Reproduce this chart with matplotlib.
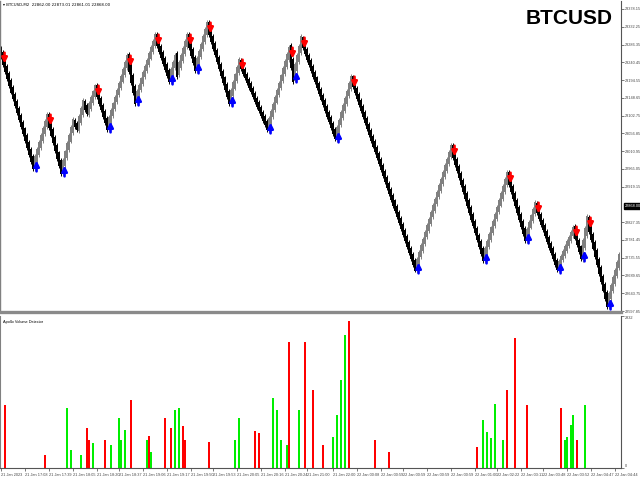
import matplotlib
matplotlib.use('Agg')
import matplotlib.pyplot as plt
import numpy as np

# ---------------- data ----------------
symbol = "BTCUSD"
header = "\u25BE BTCUSD,M2  22862.00 22873.01 22861.01 22868.00"
indicator_name = "Apollo Volume Detector"
current_price = 22868.00

# zigzag pivots of the renko-like price path (bar index, price, signal)
pivot_bar = [0, 16, 23, 30, 36, 38, 41, 43, 47, 53, 63, 67, 77, 84, 87, 88, 93, 97,
             103, 114, 119, 133, 144, 146, 150, 167, 175, 207, 225, 241, 253, 262,
             267, 278, 286, 290, 293, 303, 309]
pivot_price = [23259.3, 22972.5, 23099.1, 22959.6, 23086.2, 23070.7, 23135.3, 23112.0,
               23174.0, 23073.3, 23251.5, 23143.0, 23305.8, 23197.3, 23251.5, 23215.4,
               23305.8, 23225.7, 23336.8, 23140.4, 23241.2, 23070.7, 23272.2, 23202.5,
               23298.1, 23047.4, 23197.3, 22709.0, 23019.0, 22734.8, 22949.2, 22786.5,
               22871.7, 22709.0, 22809.7, 22740.0, 22833.0, 22615.9, 22737.4]
pivot_signal = ['d', 'u', 'd', 'u', '', '', '', '', 'd', 'u', 'd', 'u', 'd', 'u', '', '',
                'd', 'u', 'd', 'u', 'd', 'u', 'd', 'u', 'd', 'u', 'd', 'u', 'd', 'u',
                'd', 'u', 'd', 'u', 'd', 'u', 'd', 'u', '']

price_ticks = [22597.85, 22643.75, 22689.65, 22735.55, 22781.45, 22827.35, 22919.15,
               22965.05, 23010.95, 23056.85, 23102.75, 23148.65, 23194.55, 23240.45,
               23286.35, 23332.25, 23378.15]

time_tick_bar = [0, 12, 24, 36, 48, 59, 71, 83, 95, 106, 118, 130, 142, 153, 166, 178,
                 190, 201, 213, 225, 237, 248, 260, 271, 283, 295, 307]
time_tick_label = ["21 Jan 2023", "21 Jan 17:08", "21 Jan 17:39", "21 Jan 18:05",
                   "21 Jan 18:20", "21 Jan 18:37", "21 Jan 19:06", "21 Jan 19:17",
                   "21 Jan 19:50", "21 Jan 19:53", "21 Jan 20:05", "21 Jan 20:16",
                   "21 Jan 20:24", "21 Jan 21:00", "21 Jan 22:00", "22 Jan 00:08",
                   "22 Jan 00:59", "22 Jan 00:59", "22 Jan 00:59", "22 Jan 00:59",
                   "22 Jan 01:00", "22 Jan 02:22", "22 Jan 03:11", "22 Jan 03:48",
                   "22 Jan 03:52", "22 Jan 04:47", "22 Jan 04:44"]

vol_bar = [2, 22, 33, 35, 40, 43, 44, 46, 52, 55, 59, 60, 62, 65, 73, 74, 75, 82, 85, 87,
           89, 91, 92, 104, 117, 119, 127, 129, 136, 138, 140, 143, 144, 149, 152, 156,
           161, 166, 168, 170, 172, 174, 187, 194, 238, 241, 243, 245, 247, 251, 253,
           257, 263, 280, 282, 283, 285, 286, 288, 292]
vol_value = [1174, 242, 1118, 335, 242, 745, 522, 466, 522, 428, 932, 522, 708, 1267, 522,
             596, 298, 932, 745, 1081, 1118, 782, 522, 484, 522, 932, 689, 652, 1304, 1081,
             522, 428, 2347, 1081, 2347, 1453, 428, 578, 987, 1639, 2478, 2739, 522, 298,
             391, 894, 671, 559, 1192, 522, 1453, 2422, 1174, 1118, 522, 578, 801, 987,
             522, 1174]
vol_side = ['r', 'r', 'g', 'g', 'g', 'r', 'r', 'g', 'r', 'g', 'g', 'g', 'g', 'r', 'g',
            'r', 'g', 'r', 'r', 'g', 'g', 'r', 'r', 'r', 'g', 'g', 'r', 'r', 'g', 'g',
            'g', 'g', 'r', 'g', 'r', 'r', 'r', 'g', 'g', 'g', 'g', 'r', 'r', 'r', 'r',
            'g', 'g', 'g', 'g', 'g', 'r', 'r', 'r', 'r', 'g', 'g', 'g', 'g', 'r', 'g']
vol_max = 2832

# ---------------- figure ----------------
W, H = 640, 480
fig = plt.figure(figsize=(6.4, 4.8), dpi=100)
fig.patch.set_facecolor('white')

def fx(px):
    return px / W

def fy(py):
    return 1 - py / H

ax = fig.add_axes([0, fy(312), fx(621), (312 - 1) / H])
ax2 = fig.add_axes([0, fy(468), fx(621), (468 - 316) / H], sharex=ax)

# bars built from the pivot path
n_bars = pivot_bar[-1] + 1
idx = np.arange(n_bars)
close = np.interp(idx, pivot_bar, pivot_price)
opn = np.concatenate([[close[0] + 12.0], close[:-1]])
up = close >= opn
colors = np.where(up, '#808080', '#000000')
lo = np.minimum(close, opn)
hi = np.maximum(close, opn)
ext = 0.3 * (hi - lo) + 2
ax.bar(idx, (hi - lo) + 2 * ext, bottom=lo - ext, width=0.85,
       color=colors, linewidth=0)
ax.vlines(idx, lo - ext - 5, hi + ext + 5, colors=colors, linewidth=0.7)

# signal arrows
for b, p, s in zip(pivot_bar, pivot_price, pivot_signal):
    if s == 'd':
        ax.annotate('', xy=(b + 1.8, p - 22), xytext=(b + 1.8, p + 6),
                    arrowprops=dict(arrowstyle='-|>', color='#ff0000', lw=1.8,
                                    mutation_scale=8, shrinkA=0, shrinkB=0))
    elif s == 'u':
        ax.annotate('', xy=(b + 1.8, p + 14), xytext=(b + 1.8, p - 14),
                    arrowprops=dict(arrowstyle='-|>', color='#0000ff', lw=1.8,
                                    mutation_scale=8, shrinkA=0, shrinkB=0))

ax.set_xlim(-0.5, 310)
ax.set_ylim(22595.3, 23398.8)
ax.yaxis.tick_right()
ax.set_yticks(price_ticks)
ax.set_yticklabels([f"{t:.2f}" for t in price_ticks], fontsize=2.8,
                   family='Liberation Sans', color='#222222')
ax.tick_params(axis='y', length=2, width=0.5, pad=1, colors='#444444')
ax.tick_params(axis='x', bottom=False, labelbottom=False)
ax.spines['top'].set_visible(False)
ax.spines['left'].set_color('#808080')
ax.spines['left'].set_linewidth(1.0)
ax.spines['right'].set_color('#555555')
ax.spines['right'].set_linewidth(0.8)
ax.spines['bottom'].set_color('#8a8a8a')
ax.spines['bottom'].set_linewidth(2.4)

# current price box
ax.annotate(f"{current_price:.2f}", xy=(1.0, current_price), xycoords=('axes fraction', 'data'),
            xytext=(3, 0), textcoords='offset points', fontsize=2.8, family='Liberation Sans',
            color='white', va='center', ha='left',
            bbox=dict(boxstyle='square,pad=0.25', fc='black', ec='black'),
            annotation_clip=False)

# volume panel
vcol = ['#ff0000' if s == 'r' else '#00ee00' for s in vol_side]
ax2.bar(vol_bar, vol_value, width=0.75, color=vcol, linewidth=0)
ax2.set_ylim(0, vol_max)
ax2.yaxis.tick_right()
ax2.set_yticks([0, vol_max])
ax2.set_yticklabels(["0", str(vol_max)], fontsize=2.8, family='Liberation Sans', color='#222222')
lbls = ax2.get_yticklabels()
lbls[0].set_va('bottom')
lbls[1].set_va('top')
ax2.tick_params(axis='y', length=2, width=0.5, pad=1, colors='#444444')
ax2.set_xticks(time_tick_bar)
ax2.set_xticklabels(time_tick_label, fontsize=2.8, family='Liberation Sans',
                    color='#222222', ha='left')
ax2.tick_params(axis='x', length=2, width=0.5, pad=1.5, colors='#444444')
ax2.spines['top'].set_visible(False)
ax2.spines['left'].set_color('#808080')
ax2.spines['right'].set_color('#555555')
ax2.spines['right'].set_linewidth(0.8)
ax2.spines['bottom'].set_color('#555555')
ax2.spines['bottom'].set_linewidth(0.8)

# texts
fig.text(fx(3), fy(5), header, fontsize=2.8, family='DejaVu Sans', va='center', ha='left')
fig.text(fx(3), fy(322), indicator_name, fontsize=2.8, family='Liberation Sans',
         va='center', ha='left')
fig.text(fx(613), fy(18), symbol, fontsize=15, fontweight='bold', family='Liberation Sans',
         va='center', ha='right', color='black')

fig.savefig('out.png', dpi=100)
